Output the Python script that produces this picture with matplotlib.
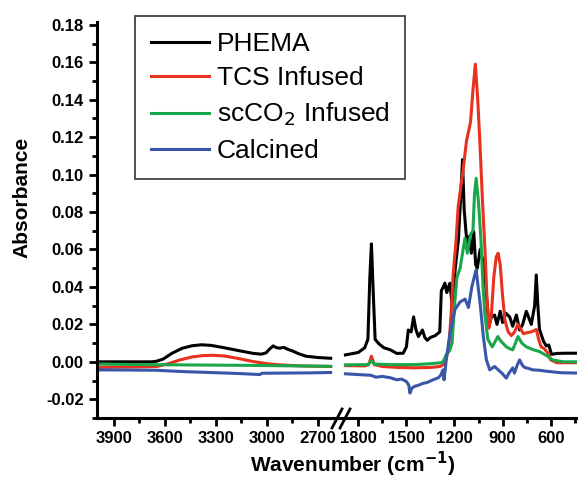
import matplotlib
matplotlib.use("Agg")
import matplotlib.pyplot as plt
from matplotlib.ticker import MultipleLocator, FormatStrFormatter
from matplotlib.lines import Line2D

plt.rcParams['font.family'] = ['Liberation Sans', 'DejaVu Sans']

# --- data ---------------------------------------------------------------
# high wavenumber part (left panel)
wn_phema_hi = [4000, 3800, 3680, 3650, 3610, 3560, 3500, 3440, 3385, 3330, 3250, 3150, 3080, 3033,
               3005, 2985, 2963, 2945, 2925, 2900, 2880, 2850, 2810, 2770, 2700, 2625]
ab_phema_hi = [0.000, 0.000, 0.000, 0.0003, 0.0015, 0.0045, 0.0072, 0.0086, 0.0091, 0.0088, 0.0075,
               0.0057, 0.0045, 0.0041, 0.0048, 0.0068, 0.0085, 0.0076, 0.0073, 0.0077, 0.0068,
               0.0058, 0.0042, 0.0030, 0.0023, 0.0019]
wn_tcs_hi = [4000, 3800, 3650, 3580, 3513, 3440, 3380, 3317, 3250, 3180, 3084, 3000, 2926, 2800, 2625]
ab_tcs_hi = [-0.0030, -0.0028, -0.0025, -0.0010, 0.0010, 0.0026, 0.0033, 0.0035, 0.0031, 0.0020,
             0.0002, -0.0010, -0.0016, -0.0022, -0.0025]
wn_sc_hi = [4000, 3700, 3400, 3100, 2900, 2625]
ab_sc_hi = [-0.0012, -0.0015, -0.0017, -0.0019, -0.0021, -0.0024]
wn_cal_hi = [4000, 3800, 3650, 3500, 3300, 3150, 3040, 3030, 2900, 2750, 2625]
ab_cal_hi = [-0.0043, -0.0044, -0.0045, -0.0052, -0.0058, -0.0063, -0.0068, -0.0061, -0.0060,
             -0.0059, -0.0057]

# fingerprint part (right panel)
wn_phema_lo = [1880, 1800, 1760, 1740, 1728, 1718, 1708, 1695, 1670, 1640, 1600, 1560, 1520, 1500,
               1488, 1470, 1455, 1440, 1425, 1400, 1385, 1370, 1350, 1320, 1292, 1282, 1270, 1260,
               1248, 1238, 1228, 1215, 1195, 1176, 1160, 1150, 1140, 1129, 1118, 1108, 1095, 1080,
               1068, 1058, 1040, 1020, 1011, 995, 985, 970, 950, 935, 915, 900, 880, 856, 837, 814,
               794, 775, 752, 721, 700, 690, 680, 670, 645, 628, 612, 595, 560, 500, 440]
ab_phema_lo = [0.0037, 0.0050, 0.0075, 0.012, 0.045, 0.063, 0.040, 0.012, 0.0095, 0.0075, 0.0064,
               0.0045, 0.0046, 0.008, 0.017, 0.016, 0.024, 0.017, 0.0135, 0.017, 0.013, 0.0115,
               0.013, 0.014, 0.016, 0.038, 0.040, 0.042, 0.037, 0.040, 0.042, 0.030, 0.050, 0.065,
               0.090, 0.108, 0.082, 0.070, 0.060, 0.067, 0.058, 0.0695, 0.052, 0.050, 0.060, 0.053,
               0.047, 0.0295, 0.019, 0.024, 0.025, 0.020, 0.027, 0.021, 0.026, 0.024, 0.019, 0.025,
               0.017, 0.020, 0.027, 0.020, 0.030, 0.0464, 0.030, 0.0173, 0.011, 0.0085, 0.009,
               0.004, 0.0045, 0.0046, 0.0046]
wn_tcs_lo = [1880, 1760, 1735, 1718, 1700, 1650, 1550, 1450, 1350, 1290, 1260, 1235, 1218, 1208,
             1190, 1177, 1150, 1125, 1100, 1085, 1070, 1055, 1042, 1025, 1010, 998, 985, 970, 955,
             940, 928, 915, 900, 885, 865, 845, 825, 805, 790, 770, 752, 720, 690, 675, 660, 640,
             620, 600, 560, 440]
ab_tcs_lo = [-0.0020, -0.0022, -0.0015, 0.0030, -0.0015, -0.0025, -0.0030, -0.0032, -0.0030,
             -0.0025, -0.0010, 0.008, 0.030, 0.047, 0.065, 0.083, 0.100, 0.118, 0.128, 0.145,
             0.159, 0.140, 0.118, 0.085, 0.060, 0.035, 0.018, 0.025, 0.045, 0.056, 0.058, 0.052,
             0.035, 0.022, 0.016, 0.014, 0.016, 0.020, 0.018, 0.015, 0.0155, 0.016, 0.0173, 0.012,
             0.008, 0.007, 0.005, 0.001, -0.0005, -0.0005]
wn_sc_lo = [1880, 1740, 1718, 1700, 1600, 1450, 1350, 1290, 1272, 1250, 1230, 1215, 1200, 1185,
            1165, 1150, 1135, 1120, 1100, 1085, 1075, 1065, 1050, 1035, 1022, 1010, 992, 965, 945,
            930, 910, 877, 855, 837, 820, 804, 780, 752, 710, 670, 620, 587, 520, 440]
ab_sc_lo = [-0.0016, -0.0015, 0.0005, -0.0012, -0.0015, -0.0015, -0.0010, -0.0005, 0.000, 0.004,
            0.006, 0.010, 0.030, 0.045, 0.050, 0.058, 0.066, 0.058, 0.068, 0.070, 0.090, 0.098,
            0.085, 0.065, 0.040, 0.025, 0.012, 0.008, 0.011, 0.0135, 0.011, 0.008, 0.007, 0.0064,
            0.010, 0.0135, 0.010, 0.008, 0.0065, 0.0055, 0.003, 0.001, 0.000, 0.000]
wn_cal_lo = [1880, 1800, 1720, 1690, 1650, 1600, 1560, 1530, 1500, 1485, 1478, 1465, 1446, 1425,
             1396, 1370, 1334, 1300, 1285, 1272, 1265, 1250, 1228, 1197, 1165, 1134, 1113, 1092,
             1072, 1065, 1040, 1020, 1001, 980, 950, 905, 877, 860, 837, 826, 810, 794, 775, 763,
             740, 711, 670, 628, 540, 440]
ab_cal_lo = [-0.0064, -0.0068, -0.0072, -0.0082, -0.0078, -0.0085, -0.0096, -0.0092, -0.0105,
             -0.0125, -0.0167, -0.0140, -0.0130, -0.0125, -0.0115, -0.0110, -0.0096, -0.0085,
             -0.0070, -0.0043, -0.0096, 0.002, 0.0155, 0.028, 0.032, 0.0335, 0.029, 0.040, 0.047,
             0.049, 0.031, 0.0135, 0.001, -0.0043, -0.0025, -0.0060, -0.0087, -0.0060, -0.0032,
             -0.0060, -0.0020, 0.0010, -0.0020, -0.0030, -0.0035, -0.0043, -0.0045, -0.0050,
             -0.0058, -0.0060]

labels = ["PHEMA", "TCS Infused", "scCO$_2$ Infused", "Calcined"]
colors = ["#000000", "#e8321e", "#1aa64a", "#3a56a8"]

hi = [(wn_phema_hi, ab_phema_hi), (wn_tcs_hi, ab_tcs_hi), (wn_sc_hi, ab_sc_hi), (wn_cal_hi, ab_cal_hi)]
lo = [(wn_phema_lo, ab_phema_lo), (wn_tcs_lo, ab_tcs_lo), (wn_sc_lo, ab_sc_lo), (wn_cal_lo, ab_cal_lo)]

W, H = 578, 480
fig = plt.figure(figsize=(W / 100, H / 100), dpi=100)
x_left, x_break, x_right = 97 / W, 340 / W, 577 / W
y_bot, y_top = 1 - 418 / H, 1 - 22 / H
ax1 = fig.add_axes([x_left, y_bot, x_break - x_left, y_top - y_bot])
ax2 = fig.add_axes([x_break, y_bot, x_right - x_break, y_top - y_bot], sharey=ax1)

for (x, y), c in zip(hi, colors):
    ax1.plot(x, y, color=c, lw=2.2)
handles = []
for (x, y), c in zip(lo, colors):
    h, = ax2.plot(x, y, color=c, lw=2.2)
    handles.append(h)

ax1.set_xlim(4000, 2570)
ax2.set_xlim(1914, 436)
ax1.set_ylim(-0.03, 0.1815)

for ax in (ax1, ax2):
    ax.spines['top'].set_visible(False)
    ax.spines['right'].set_visible(False)
    ax.spines['bottom'].set_linewidth(2.2)
    ax.spines['left'].set_linewidth(2.2)
    ax.xaxis.set_major_locator(MultipleLocator(300))
    ax.xaxis.set_minor_locator(MultipleLocator(150))
    ax.tick_params(which='major', direction='out', length=6, width=2, labelsize=12)
    ax.tick_params(which='minor', direction='out', length=3.5, width=2)
ax2.spines['left'].set_visible(False)
ax2.tick_params(axis='y', which='both', left=False, labelleft=False)
ax1.yaxis.set_major_locator(MultipleLocator(0.02))
ax1.yaxis.set_minor_locator(MultipleLocator(0.01))
ax1.yaxis.set_major_formatter(FormatStrFormatter('%.2f'))
for t in ax1.get_yticklabels() + ax1.get_xticklabels() + ax2.get_xticklabels():
    t.set_fontweight('bold')

# axis break marks
for dx in (0, 8):
    fig.add_artist(Line2D([(332 + dx) / W, (342 + dx) / W], [1 - 428 / H, 1 - 409 / H],
                          color='black', lw=2, transform=fig.transFigure))

fig.text(353 / W, 1 - 464 / H, "Wavenumber (cm$^{\\mathbf{-1}}$)", ha='center', va='center',
         fontsize=15, fontweight='bold')
fig.text(22 / W, 1 - 197 / H, "Absorbance", ha='center', va='center', rotation=90,
         fontsize=15, fontweight='bold')

leg = fig.legend(handles, labels, loc='upper left', bbox_to_anchor=(135 / W, 1 - 16 / H),
                 borderaxespad=0, fontsize=19, handlelength=2.2, handletextpad=0.3,
                 labelspacing=0.4, borderpad=0.6, fancybox=False, framealpha=1,
                 edgecolor='#333333')
leg.get_frame().set_linewidth(1.2)

fig.savefig("out.png", dpi=100)
